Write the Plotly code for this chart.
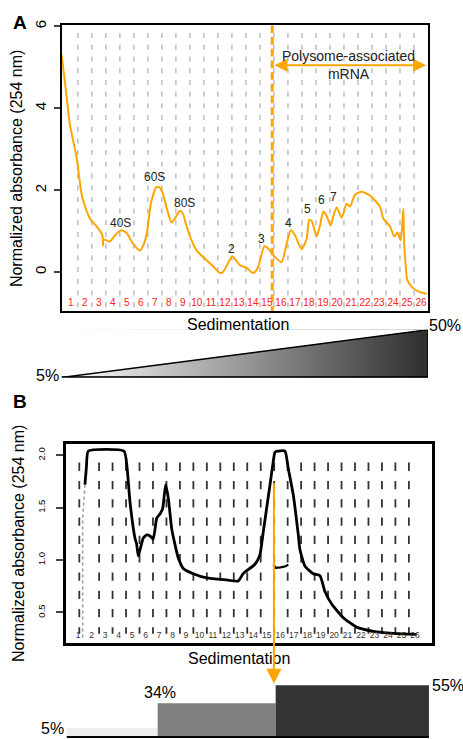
import numpy as np
import plotly.graph_objects as go

FONT = "Liberation Sans, Arial, Helvetica, sans-serif"
ORANGE = "#FFA500"

# ---------------- Panel A data ----------------
fractions = list(range(1, 27))
frac_labels = [str(i) for i in fractions]

a_frac = [0.34, 0.64, 0.93, 1.07, 1.41, 1.76, 2.0, 2.36, 2.84, 3.19, 3.27, 3.30, 3.34, 3.79,
          4.21, 4.62, 5.0, 5.43, 5.93, 6.14, 6.43, 6.71, 7.12, 7.36, 7.57, 7.86, 8.19, 8.43,
          8.79, 9.0, 9.26, 9.57, 9.98, 10.69, 11.14, 11.64, 11.86, 12.12, 12.52, 12.79, 13.07,
          13.57, 14.0, 14.26, 14.5, 14.81, 15.09, 15.45, 16.05, 16.41, 16.71, 17.0, 17.48,
          17.84, 18.02, 18.21, 18.55, 18.79, 19.02, 19.21, 19.55, 19.75, 19.98, 20.34, 20.69,
          20.93, 21.29, 21.76, 22.36, 23.07, 23.31, 23.79, 24.09, 24.31, 24.55, 24.74, 24.79,
          24.91, 25.02, 25.34, 25.81, 26.41]
a_abs = [5.31, 4.46, 3.61, 3.37, 2.81, 1.92, 1.62, 1.31, 1.12, 0.95, 0.87, 0.65, 0.80, 0.75,
         0.92, 1.02, 0.95, 0.70, 0.53, 0.63, 0.95, 1.67, 2.08, 2.06, 1.92, 1.55, 1.21, 1.31,
         1.50, 1.43, 1.12, 0.82, 0.53, 0.29, 0.15, -0.02, 0.0, 0.15, 0.39, 0.29, 0.17,
         0.10, -0.02, 0.05, 0.27, 0.63, 0.58, 0.42, 0.24, 0.70, 1.02, 0.90, 0.56,
         0.82, 1.28, 1.24, 0.87, 1.14, 1.48, 1.41, 1.14, 1.38, 1.58, 1.33, 1.67,
         1.60, 1.89, 1.96, 1.87, 1.60, 1.31, 1.12, 0.87, 0.97, 0.78, 1.55, 0.78,
         0.15, -0.19, -0.36, -0.47, -0.53]

a_peak_labels = ["40S", "60S", "80S", "2", "3", "4", "5", "6", "7"]
a_peak_frac = [4.55, 7.0, 9.14, 12.48, 14.64, 16.55, 17.93, 18.88, 19.77]
a_peak_abs = [1.21, 2.33, 1.70, 0.57, 0.80, 1.20, 1.54, 1.75, 1.83]

a_polysome_start = 15.38
a_polysome_end = 26.36
a_arrow_level = 5.05
a_gradient_pct = [5, 50]

# ---------------- Panel B data ----------------
b_frac = [1.50, 1.61, 1.75, 4.40, 4.62, 4.84, 5.21, 5.34, 5.46, 5.71, 5.83, 6.08, 6.33, 6.57,
          6.83, 7.07, 7.27, 7.49, 7.69, 7.94, 8.18, 8.43, 8.80, 9.54, 10.54, 12.02, 12.88,
          13.25, 14.12, 14.49, 14.74, 15.24, 15.46, 15.61, 15.83, 16.35, 16.60, 16.97, 17.34,
          17.46, 17.84, 18.45, 18.95, 19.32, 19.82, 20.68, 21.67, 22.91, 24.39, 26.13]
b_abs = [1.72, 1.89, 2.04, 2.04, 1.89, 1.56, 1.21, 1.15, 1.04, 1.16, 1.21, 1.24, 1.23, 1.20,
         1.40, 1.44, 1.49, 1.72, 1.59, 1.30, 1.15, 1.02, 0.92, 0.87, 0.83, 0.81, 0.80,
         0.87, 0.96, 1.05, 1.27, 1.72, 1.92, 2.03, 2.04, 2.04, 1.87, 1.62, 1.24,
         1.10, 0.94, 0.87, 0.85, 0.70, 0.58, 0.45, 0.36, 0.32, 0.30, 0.29]
b_frag_frac = [15.49, 15.66, 16.03, 16.40, 16.60]
b_frag_abs = [0.957, 0.925, 0.93, 0.94, 0.957]
b_lead_frac = [1.33, 1.33, 1.50]
b_lead_abs = [0.26, 1.40, 1.72]

b_cut_frac = 15.53
b_cut_abs = 1.747
b_step_edges = [0.15, 6.9, 15.66, 27.04]
b_step_pct = [5, 34, 55]

# ---------------- layout geometry ----------------
W, H = 463, 739
def px(x):
    return x / W
def py(y):
    return 1 - y / H

A_XR = [0.336, 26.5]
A_YR = [-0.958, 6.024]
B_XR = [0.07, 27.29]
B_YR = [0.209, 2.11]
BAR_BASE = -5.5
BAR_YR = [BAR_BASE, 60.8]

fig = go.Figure()

# Panel A grid lines (fraction boundaries)
a_grid = [i + 0.5 for i in fractions[:-1]]
gx, gy = [], []
for g in a_grid:
    gx += [g, g, None]
    gy += [5.835, A_YR[0], None]
fig.add_trace(go.Scatter(x=gx, y=gy, mode="lines", xaxis="x", yaxis="y",
                         line=dict(color="#bdbdbd", width=1.5, dash="5px,6.7px"),
                         hoverinfo="skip", showlegend=False))

# orange polysome boundary line
fig.add_trace(go.Scatter(x=[a_polysome_start, a_polysome_start], y=[A_YR[1], A_YR[0]],
                         mode="lines", xaxis="x", yaxis="y",
                         line=dict(color=ORANGE, width=3, dash="7.7px,4px"),
                         hoverinfo="skip", showlegend=False))

# profile A
fig.add_trace(go.Scatter(x=a_frac, y=a_abs, mode="lines", xaxis="x", yaxis="y",
                         line=dict(color=ORANGE, width=2, shape="spline", smoothing=0.6),
                         showlegend=False))

# Panel B grid lines
b_grid = [1.08] + [i + 0.55 for i in fractions[1:-1]]
bx, by = [], []
for g in b_grid:
    bx += [g, g, None]
    by += [1.93, 0.297, None]
fig.add_trace(go.Scatter(x=bx, y=by, mode="lines", xaxis="x2", yaxis="y2",
                         line=dict(color="#333333", width=1.8, dash="8.3px,10px"),
                         hoverinfo="skip", showlegend=False))

fig.add_trace(go.Scatter(x=b_lead_frac, y=b_lead_abs, mode="lines", xaxis="x2", yaxis="y2",
                         line=dict(color="#999999", width=1.5, dash="dot"),
                         hoverinfo="skip", showlegend=False))

fig.add_trace(go.Scatter(x=b_frac, y=b_abs, mode="lines", xaxis="x2", yaxis="y2",
                         line=dict(color="black", width=2.8, shape="spline", smoothing=0.5),
                         showlegend=False))
fig.add_trace(go.Scatter(x=b_frag_frac, y=b_frag_abs, mode="lines", xaxis="x2", yaxis="y2",
                         line=dict(color="black", width=2.2),
                         showlegend=False))

# Gradient triangle (panel A)
grad_x = np.linspace(0, 1, 200)
grad_z = np.linspace(a_gradient_pct[0], a_gradient_pct[1], 200)
fig.add_trace(go.Heatmap(x=grad_x, y=[0, 1], z=[grad_z, grad_z], xaxis="x3", yaxis="y3",
                         colorscale=[[0, "#ffffff"], [1, "#2e2e2e"]], showscale=False,
                         hoverinfo="skip"))

# Step gradient bars (panel B)
mids = [(b_step_edges[i] + b_step_edges[i + 1]) / 2 for i in range(3)]
widths = [b_step_edges[i + 1] - b_step_edges[i] for i in range(3)]
fig.add_trace(go.Bar(x=mids, y=[p - BAR_BASE for p in b_step_pct], base=BAR_BASE,
                     width=widths, xaxis="x4", yaxis="y4",
                     marker=dict(color=["#eeeeee", "#7f7f7f", "#333333"], line=dict(width=0)),
                     hoverinfo="skip", showlegend=False))

axis_common = dict(showgrid=False, zeroline=False)

fig.update_layout(
    width=W, height=H, margin=dict(l=0, r=0, t=0, b=0),
    paper_bgcolor="white", plot_bgcolor="rgba(0,0,0,0)",
    font=dict(family=FONT, color="black"),
    showlegend=False,
    xaxis=dict(domain=[px(61.5), px(428)], range=A_XR, anchor="y", **axis_common,
               showline=True, mirror=True, linecolor="black", linewidth=1.5,
               tickmode="array", tickvals=fractions, ticktext=frac_labels, ticks="",
               ticklabelposition="inside", ticklabelstandoff=3,
               tickfont=dict(size=10, color="#ff2020", family=FONT)),
    yaxis=dict(domain=[py(308.5), py(20.5)], range=A_YR, anchor="x", **axis_common,
               showline=True, mirror=True, linecolor="black", linewidth=1.5,
               tickmode="array", tickvals=[0, 2, 4, 6], ticks="outside", ticklen=6,
               tickwidth=1.5, tickangle=-90, ticklabelstandoff=2,
               tickfont=dict(size=15, family=FONT),
               title=dict(text="Normalized absorbance (254 nm)", standoff=5,
                          font=dict(size=16, family=FONT))),
    xaxis2=dict(domain=[px(65.7), px(432.3)], range=B_XR, anchor="y2", **axis_common,
                showline=True, mirror=True, linecolor="black", linewidth=2.5,
                tickmode="array", tickvals=fractions, ticktext=frac_labels, ticks="",
                ticklabelposition="inside", ticklabelstandoff=2,
                tickfont=dict(size=8.5, color="#333333", family=FONT)),
    yaxis2=dict(domain=[py(642.3), py(441.7)], range=B_YR, anchor="x2", **axis_common,
                showline=True, mirror=True, linecolor="black", linewidth=2.5,
                tickmode="array", tickvals=[0.5, 1.0, 1.5, 2.0],
                ticktext=["0.5", "1.0", "1.5", "2.0"], ticks="outside", ticklen=7,
                tickwidth=1.5, tickangle=-90, ticklabelstandoff=7,
                tickfont=dict(size=9.5, family=FONT),
                title=dict(text="Normalized absorbance (254 nm)", standoff=8,
                           font=dict(size=16, family=FONT))),
    xaxis3=dict(domain=[px(61.5), px(428)], range=[0, 1], anchor="y3", visible=False),
    yaxis3=dict(domain=[py(375), py(327)], range=[0, 1], anchor="x3", visible=False),
    xaxis4=dict(domain=[px(65.7), px(432.3)], range=B_XR, anchor="y4", visible=False),
    yaxis4=dict(domain=[py(739), py(680)], range=[BAR_BASE - 2.3, BAR_YR[1]], anchor="x4",
                visible=False),
)

shapes = [
    # mask above the triangle's hypotenuse
    dict(type="path", xref="x3", yref="y3", path="M -0.01,0 L 1.01,1.01 L -0.01,1.01 Z",
         fillcolor="white", line=dict(width=0), layer="above"),
    dict(type="path", xref="x3", yref="y3", path="M 0,0 L 1,1 L 1,0 Z",
         fillcolor="rgba(0,0,0,0)", line=dict(color="black", width=1.5), layer="above"),
    dict(type="line", xref="x3", yref="y3", x0=0, x1=1, y0=0, y1=0,
         line=dict(color="black", width=2.2), layer="above"),
    dict(type="line", xref="x4", yref="y4", x0=b_step_edges[0], x1=b_step_edges[-1],
         y0=BAR_BASE, y1=BAR_BASE, line=dict(color="black", width=2), layer="above"),
]
fig.update_layout(shapes=shapes)

ann = []
for lab, fx, fy in zip(a_peak_labels, a_peak_frac, a_peak_abs):
    ann.append(dict(x=fx, y=fy, xref="x", yref="y", text=lab, showarrow=False,
                    font=dict(size=12, color="#222222", family=FONT),
                    xanchor="center", yanchor="middle"))
# double arrow
ann.append(dict(x=a_polysome_end, y=a_arrow_level, ax=a_polysome_start + 0.05, ay=a_arrow_level,
                xref="x", yref="y", axref="x", ayref="y", text="", showarrow=True,
                arrowside="end+start", arrowhead=2, arrowsize=1.3, arrowwidth=2,
                arrowcolor=ORANGE, standoff=0, startstandoff=0))
ann.append(dict(x=(a_polysome_start + a_polysome_end) / 2 - 0.05, y=a_arrow_level,
                xref="x", yref="y", text="Polysome-associated<br>mRNA", showarrow=False,
                font=dict(size=14, color="#222222", family=FONT),
                xanchor="center", yanchor="middle"))
# x titles
ann.append(dict(x=px(238), y=py(321.5), xref="paper", yref="paper", text="Sedimentation",
                showarrow=False, font=dict(size=16, family=FONT),
                xanchor="center", yanchor="middle"))
ann.append(dict(x=px(239), y=py(657.8), xref="paper", yref="paper", text="Sedimentation",
                showarrow=False, font=dict(size=16, family=FONT),
                xanchor="center", yanchor="middle"))
# gradient labels A
ann.append(dict(x=0, y=0.05, xref="x3", yref="y3", text=f"{a_gradient_pct[0]}%",
                showarrow=False, font=dict(size=16, family=FONT),
                xanchor="right", yanchor="middle", xshift=-1))
ann.append(dict(x=1, y=1, xref="x3", yref="y3", text=f"{a_gradient_pct[1]}%",
                showarrow=False, font=dict(size=16, family=FONT),
                xanchor="left", yanchor="middle", xshift=-1, yshift=4))
# step labels B
ann.append(dict(x=b_step_edges[0], y=b_step_pct[0], xref="x4", yref="y4",
                text=f"{b_step_pct[0]}%", showarrow=False, font=dict(size=16, family=FONT),
                xanchor="right", yanchor="middle", xshift=-1))
ann.append(dict(x=b_step_edges[1], y=b_step_pct[1], xref="x4", yref="y4",
                text=f"{b_step_pct[1]}%", showarrow=False, font=dict(size=16, family=FONT),
                xanchor="center", yanchor="bottom", xshift=2))
ann.append(dict(x=b_step_edges[3], y=b_step_pct[2], xref="x4", yref="y4",
                text=f"{b_step_pct[2]}%", showarrow=False, font=dict(size=16, family=FONT),
                xanchor="left", yanchor="middle", xshift=1))
# orange arrow from the profile cut point down into the step gradient (B)
ann.append(dict(x=b_cut_frac, y=b_step_pct[2] + 2, xref="x4", yref="y4",
                ax=0, ay=-202, text="", showarrow=True, arrowhead=2, arrowsize=1.5,
                arrowwidth=2, arrowcolor=ORANGE, standoff=0))
# panel letters
ann.append(dict(x=px(20), y=py(17.5), xref="paper", yref="paper", text="<b>A</b>",
                showarrow=False, font=dict(size=19, family=FONT),
                xanchor="center", yanchor="middle"))
ann.append(dict(x=px(20), y=py(399), xref="paper", yref="paper", text="<b>B</b>",
                showarrow=False, font=dict(size=19, family=FONT),
                xanchor="center", yanchor="middle"))
fig.update_layout(annotations=ann)

fig.write_html("out.html", config={"displayModeBar": False},
               post_script="document.body.style.margin='0px';")
